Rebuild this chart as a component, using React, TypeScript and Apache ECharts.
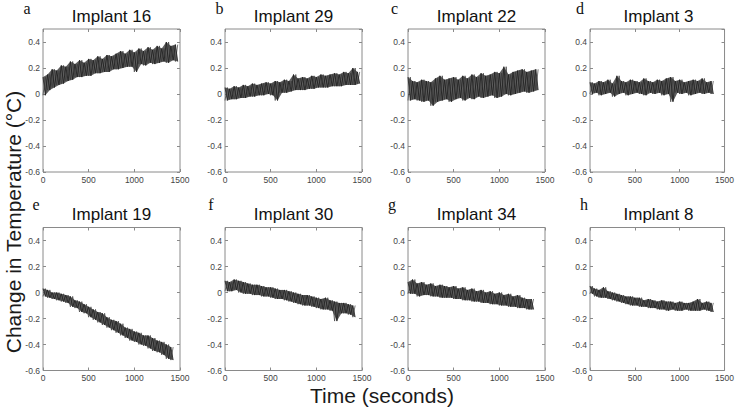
import React, { useEffect, useRef } from "react";
import * as echarts from "echarts";

// ---------- data ----------
const TITLES = ["Implant 16", "Implant 29", "Implant 22", "Implant 3", "Implant 19", "Implant 30", "Implant 34", "Implant 8"];
const LETTERS = ["a", "b", "c", "d", "e", "f", "g", "h"];
const Y_LABEL = "Change in Temperature (°C)";
const X_LABEL = "Time (seconds)";
const X_TICKS = [0, 500, 1000, 1500];
const Y_MIN = -0.6;
const Y_MAX = 0.5;
// sample spacing of the envelope readings (seconds); upper reading at t, lower at t + STEP/2
const STEP = 50;

// upper / lower extremes of the noisy trace, one reading every 50 s
const HI_A = [0.13, 0.15, 0.19, 0.18, 0.22, 0.21, 0.25, 0.23, 0.26, 0.24, 0.27, 0.26, 0.29, 0.27, 0.3, 0.29, 0.31, 0.33, 0.31, 0.34, 0.32, 0.35, 0.33, 0.36, 0.34, 0.37, 0.35, 0.4, 0.37, 0.38];
const LO_A = [-0.01, 0.03, 0.05, 0.07, 0.08, 0.1, 0.11, 0.13, 0.13, 0.14, 0.14, 0.16, 0.16, 0.17, 0.17, 0.19, 0.19, 0.2, 0.21, 0.21, 0.17, 0.23, 0.22, 0.24, 0.23, 0.24, 0.25, 0.24, 0.26, 0.25];

const HI_B = [0.05, 0.04, 0.06, 0.05, 0.07, 0.06, 0.08, 0.07, 0.08, 0.09, 0.08, 0.1, 0.09, 0.11, 0.1, 0.15, 0.12, 0.13, 0.12, 0.14, 0.13, 0.15, 0.14, 0.15, 0.16, 0.15, 0.17, 0.16, 0.2, 0.17];
const LO_B = [-0.05, -0.04, -0.04, -0.03, -0.03, -0.02, -0.02, -0.01, -0.01, 0, -0.01, -0.05, 0.01, 0.01, 0.02, 0.03, 0.03, 0.03, 0.04, 0.04, 0.05, 0.05, 0.05, 0.06, 0.06, 0.06, 0.07, 0.07, 0.07, 0.08];

const HI_C = [0.13, 0.1, 0.09, 0.11, 0.1, 0.09, 0.12, 0.14, 0.11, 0.12, 0.13, 0.11, 0.14, 0.12, 0.15, 0.13, 0.16, 0.14, 0.15, 0.17, 0.16, 0.21, 0.15, 0.17, 0.18, 0.19, 0.17, 0.18, 0.19];
const LO_C = [-0.05, -0.04, -0.05, -0.06, -0.05, -0.09, -0.06, -0.05, -0.04, -0.06, -0.04, -0.03, -0.05, -0.03, -0.04, -0.02, -0.03, -0.02, -0.01, -0.03, -0.02, 0, -0.01, 0, 0.01, 0.02, 0.01, 0.02, 0.03];

const HI_D = [0.09, 0.08, 0.1, 0.09, 0.11, 0.08, 0.14, 0.1, 0.09, 0.11, 0.1, 0.09, 0.12, 0.1, 0.09, 0.11, 0.1, 0.12, 0.13, 0.1, 0.11, 0.09, 0.1, 0.11, 0.1, 0.12, 0.09, 0.1];
const LO_D = [0, 0.01, -0.01, 0, 0.01, -0.02, 0, 0.01, -0.01, 0, 0.01, 0, -0.01, 0.01, 0, 0.01, -0.01, 0, -0.06, 0.01, 0, 0.01, -0.01, 0, 0.01, 0, 0.01, 0];

const HI_E = [0.03, 0.02, 0, 0, -0.01, -0.02, -0.03, -0.06, -0.07, -0.09, -0.11, -0.13, -0.15, -0.16, -0.19, -0.21, -0.22, -0.24, -0.27, -0.28, -0.3, -0.31, -0.33, -0.33, -0.35, -0.37, -0.38, -0.4, -0.42];
const LO_E = [-0.03, -0.04, -0.05, -0.06, -0.07, -0.08, -0.11, -0.12, -0.15, -0.16, -0.19, -0.21, -0.23, -0.25, -0.27, -0.29, -0.31, -0.33, -0.35, -0.37, -0.38, -0.4, -0.41, -0.43, -0.45, -0.46, -0.48, -0.51, -0.52];

const HI_F = [0.09, 0.08, 0.1, 0.09, 0.08, 0.07, 0.06, 0.06, 0.05, 0.04, 0.04, 0.03, 0.02, 0.02, 0.01, 0, -0.01, -0.02, -0.02, -0.03, -0.04, -0.05, -0.04, -0.06, -0.07, -0.08, -0.08, -0.09, -0.1];
const LO_F = [0.01, 0.01, 0.02, 0, -0.01, -0.01, -0.02, -0.02, -0.03, -0.03, -0.04, -0.05, -0.05, -0.06, -0.07, -0.08, -0.09, -0.1, -0.1, -0.11, -0.12, -0.13, -0.13, -0.14, -0.22, -0.16, -0.16, -0.17, -0.19];

const HI_G = [0.08, 0.1, 0.07, 0.08, 0.06, 0.07, 0.05, 0.06, 0.05, 0.04, 0.05, 0.03, 0.04, 0.02, 0.03, 0.01, 0.02, 0, 0.01, -0.01, 0, -0.02, -0.01, -0.03, -0.02, -0.04, -0.05, -0.05];
const LO_G = [-0.01, -0.01, -0.03, -0.02, -0.02, -0.03, -0.03, -0.04, -0.04, -0.04, -0.05, -0.05, -0.06, -0.06, -0.07, -0.07, -0.08, -0.08, -0.09, -0.09, -0.1, -0.1, -0.11, -0.11, -0.12, -0.12, -0.13, -0.13];

const HI_H = [0.05, 0.03, 0.02, 0.04, 0.01, 0, -0.01, -0.02, -0.03, -0.03, -0.04, -0.04, -0.06, -0.05, -0.06, -0.07, -0.06, -0.07, -0.07, -0.08, -0.07, -0.08, -0.08, -0.07, -0.05, -0.08, -0.07, -0.08];
const LO_H = [-0.01, -0.03, -0.04, -0.04, -0.05, -0.06, -0.07, -0.08, -0.09, -0.1, -0.1, -0.11, -0.11, -0.12, -0.12, -0.13, -0.13, -0.14, -0.13, -0.14, -0.14, -0.13, -0.14, -0.14, -0.14, -0.13, -0.14, -0.15];

const PANELS: number[][][] = [
  [HI_A, LO_A], [HI_B, LO_B], [HI_C, LO_C], [HI_D, LO_D],
  [HI_E, LO_E], [HI_F, LO_F], [HI_G, LO_G], [HI_H, LO_H],
];

// ---------- layout ----------
const LEFTS = [43, 225, 408, 590];
const TOPS = [29, 227.5];
const W = 137;
const H = 143;
const LETTER_POS = [
  [27, 8.5], [219.5, 8.5], [394.5, 8.5], [580, 8.5],
  [36, 204.5], [211, 204.5], [392, 204.5], [584, 204.5],
];
const SANS = "'Liberation Sans', Arial, Helvetica, sans-serif";
const SERIF = "'Liberation Serif', 'Times New Roman', serif";

function buildOption() {
  const grids: any[] = [];
  const xAxes: any[] = [];
  const yAxes: any[] = [];
  const series: any[] = [];
  const graphics: any[] = [];

  const tick = { inside: true, length: 3, lineStyle: { color: "#8a8a8a", width: 1 } };
  const label = { fontSize: 8.5, color: "#444", fontFamily: SANS, formatter: (v: number) => String(v) };

  PANELS.forEach(([hi, lo], k) => {
    const col = k % 4;
    const row = Math.floor(k / 4);
    const left = LEFTS[col];
    const top = TOPS[row];
    grids.push({ left, top, width: W, height: H, show: true, borderColor: "#8a8a8a", borderWidth: 1, containLabel: false });

    const xBase = {
      gridIndex: k, type: "value", min: X_TICKS[0], max: X_TICKS[X_TICKS.length - 1], interval: X_TICKS[1] - X_TICKS[0],
      axisLine: { show: false, onZero: false }, splitLine: { show: false }, axisTick: tick,
    };
    xAxes.push({ ...xBase, position: "bottom", axisLabel: { ...label, margin: 3 } });
    xAxes.push({ ...xBase, position: "top", axisLabel: { show: false } });

    const yBase = {
      gridIndex: k, type: "value", min: Y_MIN, max: Y_MAX, interval: 0.2,
      axisLine: { show: false, onZero: false }, splitLine: { show: false }, axisTick: tick,
    };
    yAxes.push({ ...yBase, position: "left", axisLabel: { ...label, margin: 3, showMaxLabel: false } });
    yAxes.push({ ...yBase, position: "right", axisLabel: { show: false } });

    const n = Math.min(hi.length, lo.length);
    const z1: number[][] = [];
    const z2: number[][] = [];
    const band: number[][] = [];
    for (let i = 0; i < n; i++) {
      z1.push([i * STEP, hi[i]], [i * STEP + STEP / 2, lo[i]]);
      z2.push([i * STEP, lo[i]], [i * STEP + STEP / 2, hi[i]]);
      band.push([i * STEP, hi[i], lo[i]]);
    }
    // filled band between lower and upper readings (dense core of the trace)
    series.push({
      type: "custom", xAxisIndex: 2 * k, yAxisIndex: 2 * k, silent: true,
      data: [[0, 0]],
      renderItem: (_params: any, api: any) => {
        const upper = band.map((r) => api.coord([r[0], r[1]]));
        const lower = band.map((r) => api.coord([r[0] + STEP / 2, r[2]])).reverse();
        return {
          type: "polygon",
          shape: { points: upper.concat(lower) },
          style: { fill: "#5e5e5e", stroke: "none" },
        };
      },
    });
    series.push({
      type: "line", xAxisIndex: 2 * k, yAxisIndex: 2 * k, data: z2, symbol: "none", silent: true,
      lineStyle: { color: "#3a3a3a", width: 0.7 },
    });
    series.push({
      type: "line", xAxisIndex: 2 * k, yAxisIndex: 2 * k, data: z1, symbol: "none", silent: true,
      lineStyle: { color: "#1e1e1e", width: 0.8 },
    });

    graphics.push({
      type: "text", x: left + W / 2, y: row === 0 ? 16.3 : 214.5,
      style: { text: TITLES[k], font: `17px ${SANS}`, fill: "#111", textAlign: "center", textVerticalAlign: "middle" },
    });
    graphics.push({
      type: "text", x: LETTER_POS[k][0], y: LETTER_POS[k][1],
      style: { text: LETTERS[k], font: `16px ${SERIF}`, fill: "#111", textAlign: "center", textVerticalAlign: "middle" },
    });
  });

  graphics.push({
    type: "text", x: 13, y: 222, rotation: Math.PI / 2,
    style: { text: Y_LABEL, font: `21px ${SANS}`, fill: "#1a1a1a", textAlign: "center", textVerticalAlign: "middle" },
  });
  graphics.push({
    type: "text", x: 382, y: 395,
    style: { text: X_LABEL, font: `21px ${SANS}`, fill: "#1a1a1a", textAlign: "center", textVerticalAlign: "middle" },
  });

  return {
    animation: false,
    backgroundColor: "#ffffff",
    grid: grids,
    xAxis: xAxes,
    yAxis: yAxes,
    series,
    graphic: graphics,
  };
}

export default function App() {
  const ref = useRef<HTMLDivElement>(null);
  useEffect(() => {
    if (!ref.current) return;
    const chart = echarts.init(ref.current, undefined, { renderer: "svg" });
    chart.setOption(buildOption() as any);
    return () => chart.dispose();
  }, []);
  return (
    <div
      ref={ref}
      style={{ position: "fixed", left: 0, top: 0, width: 737, height: 408, background: "#fff" }}
    />
  );
}
